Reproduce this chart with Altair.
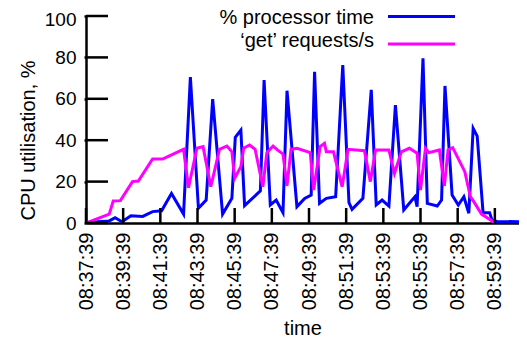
import altair as alt
import pandas as pd

DAY = "2020-01-01 "
FONT = "Liberation Sans, Arial, Helvetica, sans-serif"

series_names = ["% processor time", "\u2018get\u2019 requests/s"]
series_colors = ["#0000ff", "#ff00ff"]

cpu_times = ["08:37:39", "08:38:54", "08:39:13", "08:39:35", "08:40:04", "08:40:42",
             "08:41:14", "08:41:43", "08:42:15", "08:42:54", "08:43:16", "08:43:42",
             "08:44:07", "08:44:28", "08:45:00", "08:45:30", "08:45:41", "08:45:59",
             "08:46:11", "08:47:02", "08:47:14", "08:47:34", "08:47:53", "08:48:15",
             "08:48:28", "08:49:00", "08:49:25", "08:49:46", "08:49:57", "08:50:13",
             "08:50:35", "08:51:05", "08:51:28", "08:51:48", "08:51:58", "08:52:33",
             "08:53:00", "08:53:16", "08:53:35", "08:53:57", "08:54:18", "08:54:45",
             "08:55:12", "08:55:21", "08:55:28", "08:55:47", "08:56:01", "08:56:33",
             "08:56:47", "08:56:58", "08:57:21", "08:57:41", "08:57:59", "08:58:15",
             "08:58:29", "08:58:42", "08:59:01", "08:59:22", "08:59:30", "08:59:46",
             "09:01:39"]
cpu_vals = [0.3, 1.0, 2.6, 0.6, 3.5, 3.2,
            5.5, 5.9, 14.3, 4.3, 70.5, 7.1,
            11.1, 59.8, 4.3, 11.9, 41.4, 44.9,
            8.4, 15.5, 69.1, 8.7, 11.1, 5.0,
            63.9, 7.9, 11.9, 13.5, 73.1, 9.5,
            11.9, 12.7, 76.3, 9.8, 6.6, 11.9,
            64.3, 8.7, 11.1, 8.2, 57.0, 6.3,
            11.1, 12.7, 7.9, 79.6, 9.5, 8.2,
            11.1, 66.2, 13.5, 8.7, 12.7, 4.7,
            45.7, 42.0, 5.0, 5.0, 1.4, 0.7,
            0.6]

get_times = ["08:37:39", "08:38:54", "08:39:07", "08:39:30", "08:40:09", "08:40:28",
             "08:41:14", "08:41:46", "08:42:54", "08:43:10", "08:43:37", "08:43:57",
             "08:44:22", "08:44:50", "08:45:14", "08:45:30", "08:45:39", "08:45:59",
             "08:46:08", "08:46:27", "08:46:45", "08:47:10", "08:47:23", "08:47:43",
             "08:47:57", "08:48:15", "08:48:28", "08:48:41", "08:49:00", "08:49:43",
             "08:49:54", "08:50:15", "08:50:29", "08:50:35", "08:50:58", "08:51:26",
             "08:51:45", "08:52:38", "08:52:57", "08:53:14", "08:53:57", "08:54:15",
             "08:54:37", "08:55:03", "08:55:28", "08:55:39", "08:55:55", "08:56:06",
             "08:56:40", "08:56:56", "08:57:08", "08:57:23", "08:58:02", "08:58:20",
             "08:58:31", "08:58:56", "08:59:39"]
get_vals = [0.0, 4.3, 10.6, 10.8, 20.0, 20.3,
            30.9, 30.9, 35.6, 17.0, 36.1, 36.9,
            17.5, 35.6, 37.2, 34.4, 21.6, 27.2,
            36.1, 37.7, 35.6, 17.5, 34.0, 37.2,
            35.3, 33.3, 17.9, 35.6, 36.1, 34.0,
            15.9, 36.9, 38.5, 34.4, 34.4, 17.5,
            35.6, 34.9, 20.0, 35.3, 35.3, 24.0,
            34.4, 36.1, 33.7, 15.9, 36.1, 34.0,
            35.3, 17.9, 35.3, 36.4, 24.8, 12.7,
            10.3, 4.3, 0.1]

tick_times = ["08:37:39", "08:39:39", "08:41:39", "08:43:39", "08:45:39", "08:47:39",
              "08:49:39", "08:51:39", "08:53:39", "08:55:39", "08:57:39", "08:59:39"]
y_ticks = [0, 20, 40, 60, 80, 100]
x_range = ["08:37:39", "09:00:57"]


def dt(s):
    h, m, sec = (int(p) for p in s.split(":"))
    return alt.DateTime(year=2020, month=1, date=1, hours=h, minutes=m, seconds=sec)


frames = []
for name, times, vals in [(series_names[0], cpu_times, cpu_vals),
                          (series_names[1], get_times, get_vals)]:
    frames.append(pd.DataFrame({
        "time": pd.to_datetime([DAY + t for t in times]),
        "value": vals,
        "series": name,
    }))
df = pd.concat(frames, ignore_index=True)

xscale = alt.Scale(domain=[dt(x_range[0]), dt(x_range[1])])
yscale = alt.Scale(domain=[0, 100])

xaxis = alt.Axis(values=[dt(t) for t in tick_times], format="%H:%M:%S",
                 labelAngle=270, labelAlign="right", labelBaseline="middle",
                 labelPadding=9, tickSize=0, labelFlush=False, labelOverlap=False,
                 domainWidth=2.5, domainColor="black", labelColor="black",
                 labelFontSize=20, labelFont=FONT, grid=False,
                 title="time", titleFontSize=20, titleFont=FONT,
                 titleFontWeight="normal", titleColor="black",
                 titleY=111, titleBaseline="alphabetic")
yaxis = alt.Axis(values=y_ticks, tickSize=2, tickWidth=2.5, tickColor="black",
                 labelPadding=8, labelFontSize=19, labelFont=FONT,
                 labelColor="black", domainWidth=2.5, domainColor="black",
                 labelFlush=False,
                 labelOffset={"condition": {"test": "datum.value === 100", "value": 3},
                              "value": 0},
                 grid=False, title="CPU utilisation, %", titleFontSize=20,
                 titleFont=FONT, titleFontWeight="normal", titleColor="black",
                 titleX=-58, titleY=124, titleAngle=270,
                 titleBaseline="middle", titleAlign="center")

lines = alt.Chart(df).mark_line(strokeWidth=3, clip=True).encode(
    x=alt.X("time:T", scale=xscale, axis=xaxis),
    y=alt.Y("value:Q", scale=yscale, axis=yaxis),
    color=alt.Color("series:N", scale=alt.Scale(domain=series_names, range=series_colors),
                    legend=None),
)

ytick_df = pd.DataFrame({"value": y_ticks})
yticks = alt.Chart(ytick_df).mark_rule(color="black", strokeWidth=2.5).encode(
    y=alt.Y("value:Q", scale=yscale, axis=yaxis),
    x=alt.value(0), x2=alt.value(22),
)

xtick_df = pd.DataFrame({"time": pd.to_datetime([DAY + t for t in tick_times])})
xticks = alt.Chart(xtick_df).mark_rule(color="black", strokeWidth=2.5).encode(
    x=alt.X("time:T", scale=xscale, axis=xaxis),
    y=alt.value(207), y2=alt.value(192),
)

legend_layers = []
for i, (name, col) in enumerate(zip(series_names, series_colors)):
    ldf = pd.DataFrame({"name": [name]})
    legend_layers.append(
        alt.Chart(ldf).mark_text(align="right", baseline="alphabetic", fontSize=20,
                                 font=FONT, color="black").encode(
            text="name:N", x=alt.value(288), y=alt.value(7.7 + 23 * i))
    )
    legend_layers.append(
        alt.Chart(ldf).mark_rule(color=col, strokeWidth=3).encode(
            x=alt.value(302), x2=alt.value(369), y=alt.value(0.5 + 27.5 * i))
    )

chart = alt.layer(lines, yticks, xticks, *legend_layers).properties(
    width=433, height=207,
    autosize=alt.AutoSizeParams(type="none"),
    padding={"left": 78, "top": 8, "right": 0, "bottom": 115},
).configure_view(stroke=None)

chart.save("out.html", embed_options={"renderer": "svg", "actions": False})
